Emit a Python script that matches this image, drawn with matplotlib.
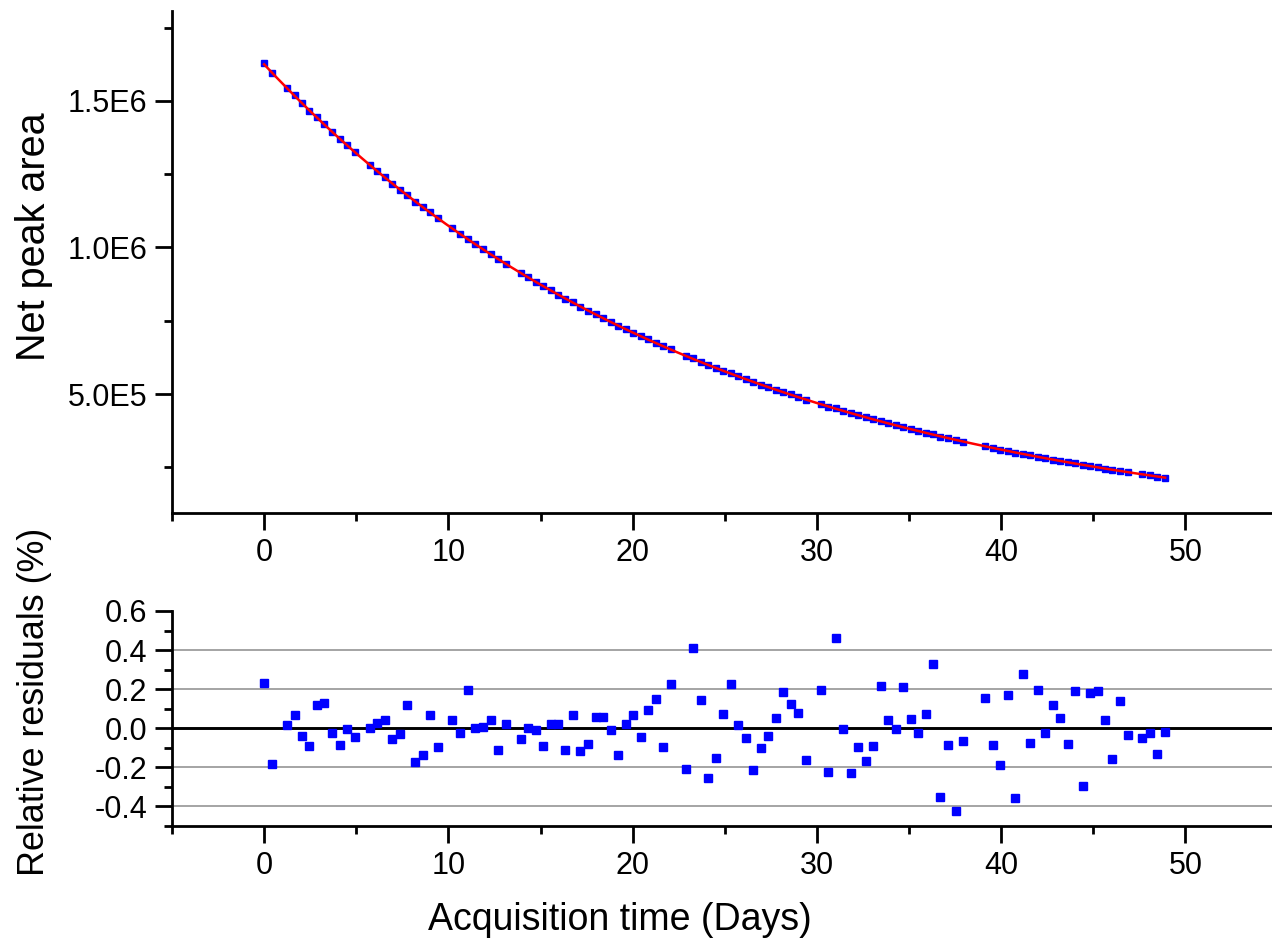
import matplotlib
matplotlib.use("Agg")
import matplotlib.pyplot as plt
import numpy as np
from matplotlib.ticker import MultipleLocator, FixedLocator, FuncFormatter

plt.rcParams.update({"font.family": ["Liberation Sans", "DejaVu Sans"], "axes.unicode_minus": False})

# acquisition times (days) and relative residuals (%)
days = [0.0, 0.42, 1.23, 1.65, 2.05, 2.46, 2.88, 3.27, 3.69, 4.11, 4.50, 4.92,
        5.72, 6.13, 6.55, 6.95, 7.37, 7.78, 8.18, 8.60, 9.01, 9.41,
        10.22, 10.64, 11.06, 11.46, 11.87, 12.29, 12.69, 13.10,
        13.92, 14.32, 14.73, 15.15, 15.55, 15.96, 16.34, 16.76, 17.17, 17.57, 17.99,
        18.40, 18.80, 19.20, 19.62, 20.02, 20.43, 20.85, 21.27, 21.66, 22.06,
        22.88, 23.28, 23.69, 24.09, 24.50, 24.90, 25.32, 25.73, 26.13, 26.53, 26.95,
        27.35, 27.76, 28.16, 28.57, 28.98, 29.39,
        30.20, 30.60, 31.02, 31.42, 31.83, 32.23, 32.64, 33.04, 33.46, 33.88, 34.27,
        34.67, 35.09, 35.49, 35.90, 36.30, 36.70, 37.11, 37.53, 37.93,
        39.15, 39.55, 39.96, 40.37, 40.77, 41.17, 41.59, 41.99, 42.38, 42.82, 43.20,
        43.61, 44.01, 44.43, 44.83, 45.24, 45.64, 46.04, 46.47, 46.87,
        47.67, 48.07, 48.48, 48.90]
resid = [0.231, -0.184, 0.017, 0.070, -0.039, -0.092, 0.121, 0.128, -0.024, -0.085, -0.002, -0.044,
         0.000, 0.027, 0.041, -0.054, -0.031, 0.121, -0.172, -0.139, 0.066, -0.097,
         0.042, -0.024, 0.194, 0.000, 0.009, 0.042, -0.112, 0.024,
         -0.053, 0.000, -0.007, -0.092, 0.024, 0.024, -0.112, 0.066, -0.117, -0.082, 0.056,
         0.056, -0.007, -0.139, 0.024, 0.066, -0.046, 0.092, 0.150, -0.097, 0.226,
         -0.207, 0.413, 0.145, -0.255, -0.153, 0.075, 0.224, 0.019, -0.048, -0.216, -0.099,
         -0.041, 0.051, 0.185, 0.126, 0.080, -0.162,
         0.194, -0.226, 0.461, -0.003, -0.228, -0.097, -0.168, -0.090, 0.218, 0.044, -0.003,
         0.213, 0.046, -0.022, 0.073, 0.327, -0.352, -0.085, -0.422, -0.063,
         0.153, -0.087, -0.187, 0.170, -0.359, 0.279, -0.073, 0.197, -0.026, 0.121, 0.051,
         -0.078, 0.190, -0.293, 0.182, 0.190, 0.042, -0.156, 0.141, -0.036,
         -0.049, -0.022, -0.133, -0.020]

# exponential fit (start value, decay constant per day)
A0 = 1.625e6
lam = 0.0414

t = np.array(days)
fit = A0 * np.exp(-lam * t)
area = fit * (1 + np.array(resid) / 100)
tf = np.linspace(0, t[-1], 300)

W, H = 1272, 951
fig = plt.figure(figsize=(W / 100, H / 100), dpi=100)
L = 172
ax1 = fig.add_axes([L / W, 1 - 513 / H, (W - L) / W, (513 - 11) / H])
ax2 = fig.add_axes([L / W, 1 - 826 / H, (W - L) / W, (826 - 611) / H])

ax1.plot(t, area, "s", color="#0000FF", ms=4.5, mec="#0000FF", zorder=2)
ax1.plot(tf, A0 * np.exp(-lam * tf), color="#FF0000", lw=1.8, zorder=3)
ax1.set_ylim(9.4e4, 1.807e6)
ax1.yaxis.set_major_locator(FixedLocator([5e5, 1e6, 1.5e6]))
ax1.yaxis.set_minor_locator(FixedLocator([2.5e5, 7.5e5, 1.25e6, 1.75e6]))
ax1.yaxis.set_major_formatter(FuncFormatter(lambda v, p: "%.1fE%d" % (v / 10 ** int(np.floor(np.log10(v))), int(np.floor(np.log10(v))))))

ax2.axhline(0, color="black", lw=2.1, zorder=1)
for g in [-0.4, -0.2, 0.2, 0.4]:
    ax2.axhline(g, color="#8C8C8C", lw=1.1, zorder=0)
ax2.plot(t, resid, "s", color="#0000FF", ms=5.8, mec="#0000FF", ls="none", zorder=3)
ax2.set_ylim(-0.5, 0.6)
ax2.yaxis.set_major_locator(FixedLocator([-0.4, -0.2, 0.0, 0.2, 0.4, 0.6]))
ax2.yaxis.set_minor_locator(MultipleLocator(0.1))
ax2.yaxis.set_major_formatter(FuncFormatter(lambda v, p: "%.1f" % v))

for ax in (ax1, ax2):
    ax.set_xlim(-5, 54.7)
    ax.xaxis.set_major_locator(MultipleLocator(10))
    ax.xaxis.set_minor_locator(MultipleLocator(5))
    ax.spines["top"].set_visible(False)
    ax.spines["right"].set_visible(False)
    for s in ("left", "bottom"):
        ax.spines[s].set_linewidth(2.0)
    ax.tick_params(which="major", direction="out", length=12, width=2.0, labelsize=22, pad=6)
    ax.tick_params(which="minor", direction="out", length=6, width=2.0)
    ax.patch.set_alpha(0)

fig.text(34 / W, 1 - 237 / H, "Net peak area", rotation=90, ha="center", va="center", fontsize=28.5)
fig.text(35 / W, 1 - 702 / H, "Relative residuals (%)", rotation=90, ha="center", va="center", fontsize=25.8)
fig.text(620 / W, 1 - 920 / H, "Acquisition time (Days)", ha="center", va="center", fontsize=27)

fig.savefig("out.png", dpi=100, facecolor="white")
